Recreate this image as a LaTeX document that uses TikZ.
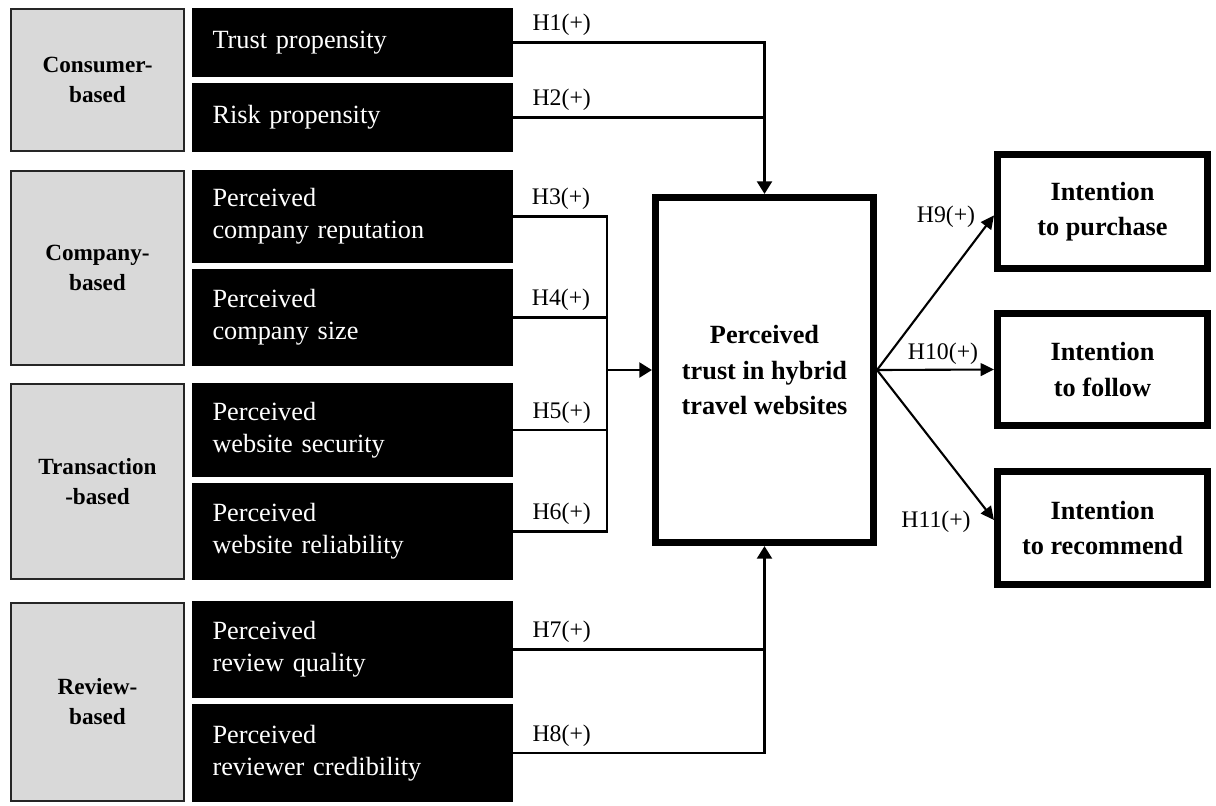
\documentclass[tikz,border=0pt]{standalone}
\usepackage{fontspec}
\setmainfont{Liberation Serif}
\usetikzlibrary{arrows.meta,calc,positioning}
\newcommand{\pxl}{0.025}

\tikzset{
  sz/.style 2 args={minimum width=#1*\pxl cm, minimum height=#2*\pxl cm},
  grp/.style={draw=black!85, line width=1.5pt, fill=black!15, inner sep=0pt, align=center,
    font=\fontsize{16.5}{21.3}\selectfont\bfseries},
  fac/.style={fill=black, text=white, inner sep=0pt, align=left, text width=280*\pxl cm,
    font=\fontsize{18.7}{22.8}\selectfont},
  core/.style={draw, line width=5pt, inner sep=0pt, align=center,
    font=\fontsize{18.7}{24.9}\selectfont\bfseries},
  hyp/.style={inner sep=0pt, font=\fontsize{16.9}{18}\selectfont},
  link/.style={line width=2.1pt},
  slim/.style={line width=1.5pt},
  arr/.style={-{Triangle[length=9pt,width=10.5pt]}},
  arrs/.style={-{Triangle[length=9.5pt,width=9pt]}}
}

\begin{document}
\begin{tikzpicture}[x=\pxl cm, y=-\pxl cm]
\useasboundingbox (0,0) rectangle (1216,805);
%Gruppen links
\node[grp, sz={173}{142}] (cons) at (97.5,80) {Consumer-\\based};
\node[grp, sz={173}{194}] (comp) at (97.5,268) {Company-\\based};
\node[grp, sz={173}{195}] (trans) at (97.5,481.5) {Transaction\\-based};
\node[grp, sz={173}{198}] (revw) at (97.5,702) {Review-\\based};
%Faktoren
\node[fac, sz={321}{69}] (trust) at (352.5,42.5) {Trust propensity};
\node[fac, sz={321}{69}] (risk) at (352.5,117.5) {Risk propensity};
\node[fac, sz={321}{93}] (repu) at (352.5,216.5) {Perceived\\company reputation};
\node[fac, sz={321}{97}] (csize) at (352.5,317.5) {Perceived\\company size};
\node[fac, sz={321}{94}] (secu) at (352.5,430) {Perceived\\website security};
\node[fac, sz={321}{97}] (reli) at (352.5,531.5) {Perceived\\website reliability};
\node[fac, sz={321}{97}] (qual) at (352.5,649.5) {Perceived\\review quality};
\node[fac, sz={321}{98}] (cred) at (352.5,753) {Perceived\\reviewer credibility};
%Mitte und rechts
\node[core, sz={218}{345}] (ctr) at (764.5,370) {Perceived\\trust in hybrid\\travel websites};
\node[core, sz={210}{114}] (purch) at (1102.5,211.5) {Intention\\to purchase};
\node[core, sz={210}{112}] (follow) at (1102.5,369.5) {Intention\\to follow};
\node[core, sz={210}{113}] (recom) at (1102.5,528) {Intention\\to recommend};
\coordinate (jl) at (ctr.west -| 607,0);
%Pfeile
\draw[link,arr] (trust.east) -| (ctr.north);
\draw[link] (risk.east) -- (risk.east -| ctr.north);
\draw[link] (repu.east) -| (jl |- reli.east) -- (reli.east);
\draw[link] (csize.east) -- (csize.east -| jl);
\draw[link] (secu.east) -- (secu.east -| jl);
\draw[link,arr] (jl) -- (ctr.west);
\draw[link] (qual.east) -- (qual.east -| ctr.south);
\draw[link,arr] (cred.east) -| (ctr.south);
\draw[slim,arrs] (ctr.east) -- ([yshift=-2.8pt]purch.west);
\draw[slim,arrs] (ctr.east) -- (follow.west);
\draw[slim,arrs] (ctr.east) -- ([yshift=5.7pt]recom.west);
%Hypothesen
\node[hyp, above right=4.5pt and 13.5pt of trust.east] (h1) {H1(+)};
\node[hyp, above right=4.5pt and 13.5pt of risk.east] (h2) {H2(+)};
\node[hyp, above right=4.5pt and 13pt of repu.east] (h3) {H3(+)};
\node[hyp, above right=4.5pt and 13pt of csize.east] (h4) {H4(+)};
\node[hyp, above right=4.5pt and 13.5pt of secu.east] (h5) {H5(+)};
\node[hyp, above right=4.5pt and 13.5pt of reli.east] (h6) {H6(+)};
\node[hyp, above right=4.5pt and 13.5pt of qual.east] (h7) {H7(+)};
\node[hyp, above right=4.5pt and 13.5pt of cred.east] (h8) {H8(+)};
\node[hyp] (h9) at (946,217) {H9(+)};
\node[hyp] (h10) at (943,354) {H10(+)};
\node[hyp] (h11) at (936,522) {H11(+)};
\end{tikzpicture}
\end{document}
